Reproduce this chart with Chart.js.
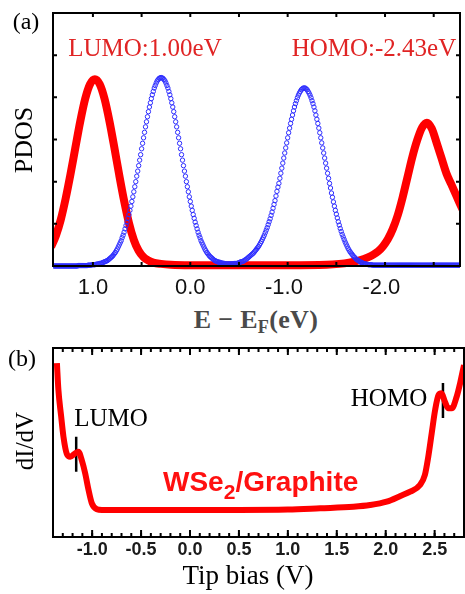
<!DOCTYPE html>
<html>
<head>
<meta charset="utf-8">
<script src="https://cdn.jsdelivr.net/npm/chart.js@4.4.1/dist/chart.umd.min.js"></script>
<style>
  body { margin: 0; background: #fff; }
  #page { position: relative; width: 465px; height: 594px; overflow: hidden; }
  canvas { position: absolute; left: 0; }
  .t { position: absolute; transform: translate(-50%, -50%); white-space: nowrap; line-height: 1;
       font-family: "Liberation Serif", serif; color: #000; }
  .rot { transform: translate(-50%, -50%) rotate(-90deg); }
  sub { line-height: 0; }
</style>
</head>
<body>
<div id="page">
  <canvas id="pdosChart" width="465" height="305" style="top:0"></canvas>
  <canvas id="stsChart" width="465" height="254" style="top:340px"></canvas>

  <div class="t" style="left:26px;top:21px;font-size:24px">(a)</div>
  <div class="t" style="left:145px;top:47px;font-size:25px;color:#e02424">LUMO:1.00eV</div>
  <div class="t" style="left:374px;top:47px;font-size:25px;color:#e02424">HOMO:-2.43eV</div>
  <div class="t rot" style="left:24px;top:140px;font-size:26px">PDOS</div>
  <div class="t" style="left:256px;top:320px;font-size:26px;font-weight:bold;color:#4a4a4a;letter-spacing:0.3px">E − E<sub style="font-size:0.7em;vertical-align:-0.3em">F</sub>(eV)</div>

  <div class="t" style="left:22px;top:358px;font-size:24px">(b)</div>
  <div class="t rot" style="left:24px;top:441px;font-size:25px">dI/dV</div>
  <div class="t" style="left:111px;top:417px;font-size:25px">LUMO</div>
  <div class="t" style="left:389px;top:397px;font-size:25px">HOMO</div>
  <div class="t" style="left:163px;top:482px;transform:translate(0,-50%);font-family:'Liberation Sans',sans-serif;font-weight:bold;font-size:28px;color:#ff1010">WSe<sub style="font-size:0.75em;vertical-align:-0.4em">2</sub>/Graphite</div>
  <div class="t" style="left:248px;top:575px;font-size:27px">Tip bias (V)</div>
</div>

<script>
// ---- panel (a): PDOS ----
// blue circles, one value every 0.01 eV starting at 1.40 eV
const pdosEnergyStart = 1.40;
const pdosEnergyStep = 0.01;
const pdosBlue = [
  0, 0, 0, 0, 0, 0, 0, 0, 0, 0,                               // 1.40
  0, 0, 0, 0, 0, 0, 0, 0, 0, 0,                               // 1.30
  0, 0, 0, 0, 0, .01, .01, .01, .01, .01,                     // 1.20
  .01, .01, .01, .01, .01, .02, .02, .02, .02, .03,           // 1.10
  .03, .03, .03, .04, .04, .05, .05, .06, .06, .07,           // 1.00
  .08, .09, .10, .11, .12, .13, .15, .17, .19, .21,           // 0.90
  .23, .26, .29, .32, .36, .40, .45, .50, .55, .60,           // 0.80
  .67, .73, .80, .88, .96, 1.04, 1.13, 1.22, 1.32, 1.42,      // 0.70
  1.53, 1.64, 1.76, 1.88, 2.00, 2.13, 2.25, 2.38, 2.51, 2.64, // 0.60
  2.78, 2.91, 3.04, 3.17, 3.30, 3.42, 3.54, 3.66, 3.77, 3.87, // 0.50
  3.97, 4.06, 4.14, 4.22, 4.28, 4.34, 4.39, 4.42, 4.45, 4.46, // 0.40
  4.47, 4.46, 4.45, 4.42, 4.39, 4.34, 4.28, 4.22, 4.14, 4.06, // 0.30
  3.97, 3.87, 3.77, 3.66, 3.54, 3.42, 3.30, 3.17, 3.04, 2.91, // 0.20
  2.78, 2.64, 2.51, 2.38, 2.25, 2.13, 2.00, 1.88, 1.76, 1.64, // 0.10
  1.53, 1.42, 1.32, 1.22, 1.13, 1.04, .96, .88, .80, .73,     // 0.00
  .67, .60, .55, .50, .45, .40, .36, .32, .29, .26,           // -0.10
  .23, .21, .19, .17, .15, .13, .12, .11, .10, .09,           // -0.20
  .09, .08, .07, .07, .06, .06, .05, .05, .05, .05,           // -0.30
  .05, .05, .05, .05, .05, .06, .06, .06, .06, .07,           // -0.40
  .08, .09, .10, .10, .11, .12, .14, .15, .17, .19,           // -0.50
  .21, .23, .25, .27, .29, .31, .34, .37, .40, .43,           // -0.60
  .46, .50, .54, .58, .63, .68, .73, .79, .85, .91,           // -0.70
  .98, 1.05, 1.12, 1.20, 1.28, 1.37, 1.46, 1.55, 1.66, 1.77,  // -0.80
  1.87, 1.96, 2.08, 2.20, 2.32, 2.44, 2.56, 2.68, 2.80, 2.92, // -0.90
  3.04, 3.16, 3.27, 3.38, 3.48, 3.58, 3.68, 3.77, 3.85, 3.92, // -1.00
  3.99, 4.05, 4.10, 4.14, 4.18, 4.20, 4.22, 4.22, 4.22, 4.20, // -1.10
  4.18, 4.14, 4.10, 4.05, 3.99, 3.92, 3.85, 3.77, 3.68, 3.58, // -1.20
  3.48, 3.38, 3.27, 3.16, 3.04, 2.92, 2.80, 2.68, 2.56, 2.44, // -1.30
  2.32, 2.20, 2.08, 1.96, 1.85, 1.73, 1.63, 1.52, 1.42, 1.32, // -1.40
  1.23, 1.14, 1.05, .97, .89, .82, .75, .69, .63, .57,        // -1.50
  .52, .47, .42, .38, .34, .31, .28, .25, .22, .20,           // -1.60
  .17, .15, .14, .12, .11, .09, .08, .07, .06, .05,           // -1.70
  .05, .04, .04, .03, .03, .03, .03, .02, .02, .02,           // -1.80
  .02, .02, .02, .02, .02, .02, .02, .02, .02, .02,           // -1.90
  .02, .02, .02, .02, .02, .02, .02, .02, .02, .02,           // -2.00
  .02, .02, .02, .02, .02, .02, .02, .02, .02, .02,           // -2.10
  .02, .02, .02, .02, .02, .02, .02, .02, .02, .02,           // -2.20
  .02, .02, .02, .02, .02, .02, .02, .02, .02, .02,           // -2.30
  .02, .02, .02, .02, .02, .02, .02, .02, .02, .02,           // -2.40
  .02, .02, .02, .02, .02, .02, .02, .02, .02, .02,           // -2.50
  .02, .02, .02, .02, .02, .02, .02, .02, .02, .02,           // -2.60
  .02, .02, .02, .02, .02, .02, .02, .02, .02                 // -2.70
];

// red LUMO / HOMO curve
const pdosRedEnergy = [1.43, 1.38, 1.33, 1.28, 1.23, 1.18, 1.13, 1.08, 1.03, 0.98, 0.93, 0.88, 0.83, 0.78,
  0.73, 0.68, 0.63, 0.58, 0.53, 0.48, 0.43, 0.38, 0.30, 0.20, 0.00, -0.50, -1.00, -1.40, -1.53, -1.63,
  -1.73, -1.83, -1.88, -1.93, -1.98, -2.03, -2.08, -2.13, -2.18, -2.23, -2.28, -2.33, -2.38, -2.43,
  -2.48, -2.53, -2.58, -2.63, -2.68, -2.73, -2.78, -2.83];
const pdosRedValue = [0.45, 0.72, 1.10, 1.60, 2.18, 2.81, 3.43, 3.96, 4.31, 4.43, 4.31, 3.96, 3.43, 2.81,
  2.16, 1.55, 1.02, 0.62, 0.36, 0.21, 0.13, 0.08, 0.05, 0.03, 0.02, 0.02, 0.02, 0.03, 0.05, 0.08,
  0.13, 0.21, 0.27, 0.35, 0.47, 0.64, 0.88, 1.20, 1.62, 2.10, 2.58, 2.98, 3.28, 3.40,
  3.26, 2.92, 2.56, 2.20, 1.94, 1.68, 1.42, 1.18];

const pdosTickValues = [1, 0, -1, -2];
const pdosTickLabels = ['1.0', '0.0', '-1.0', '-2.0'];

// ---- panel (b): dI/dV ----
const stsBias = [-1.36, -1.345, -1.317, -1.293, -1.259, -1.224, -1.173, -1.14, -1.106, -1.071, -1.037,
  -1.003, -0.952, -0.90, -0.50, 0.00, 0.50, 1.00, 1.33, 1.67, 1.84, 2.01, 2.15, 2.25, 2.35, 2.40,
  2.435, 2.47, 2.505, 2.54, 2.57, 2.605, 2.64, 2.675, 2.725, 2.76, 2.80];
const stsDidv = [0.92, 0.78, 0.64, 0.53, 0.44, 0.425, 0.443, 0.451, 0.407, 0.337, 0.249,
  0.178, 0.147, 0.143, 0.143, 0.143, 0.143, 0.145, 0.152, 0.160, 0.169, 0.187, 0.217, 0.240, 0.275, 0.328,
  0.425, 0.549, 0.672, 0.751, 0.760, 0.716, 0.681, 0.681, 0.742, 0.813, 0.910];

const lumoMarkBias = [-1.163, -1.163];
const lumoMarkLevel = [0.53, 0.345];
const homoMarkBias = [2.585, 2.585];
const homoMarkLevel = [0.815, 0.63];

const biasTickValues = [-1, -0.5, 0, 0.5, 1, 1.5, 2, 2.5];
const biasTickLabels = ['-1.0', '-0.5', '0.0', '0.5', '1.0', '1.5', '2.0', '2.5'];

// box around the plot area with inward tick marks
const frameTicks = {
  id: 'frameTicks',
  afterDatasetsDraw(chart, args, opts) {
    const { ctx, chartArea: a, scales: { x, y } } = chart;
    ctx.save();
    ctx.strokeStyle = '#000';
    const marks = (scale, step, len, horizontal) => {
      const k0 = Math.ceil(scale.min / step - 1e-6);
      const k1 = Math.floor(scale.max / step + 1e-6);
      ctx.beginPath();
      for (let k = k0; k <= k1; k++) {
        const p = scale.getPixelForValue(k * step);
        if (horizontal) {
          ctx.moveTo(p, a.top); ctx.lineTo(p, a.top + len);
          ctx.moveTo(p, a.bottom); ctx.lineTo(p, a.bottom - len);
        } else {
          ctx.moveTo(a.left, p); ctx.lineTo(a.left + len, p);
          ctx.moveTo(a.right, p); ctx.lineTo(a.right - len, p);
        }
      }
      ctx.stroke();
    };
    ctx.lineWidth = opts.tickWidth;
    if (opts.xMinor) marks(x, opts.xMinor, opts.minorLen, true);
    if (opts.xMajor) marks(x, opts.xMajor, opts.majorLen, true);
    if (opts.yStep) marks(y, opts.yStep, opts.minorLen, false);
    ctx.lineWidth = opts.frameWidth;
    ctx.strokeRect(a.left, a.top, a.right - a.left, a.bottom - a.top);
    ctx.restore();
  }
};

const hiddenY = (w, min, max) => ({
  min, max,
  grid: { display: false, drawTicks: false },
  border: { display: false },
  ticks: { display: false },
  afterFit(s) { s.width = w; }
});

new Chart(document.getElementById('pdosChart'), {
  type: 'line',
  data: {
    datasets: [
      {
        label: 'blue',
        data: pdosBlue.map((v, i) => ({ x: pdosEnergyStart - i * pdosEnergyStep, y: v })),
        showLine: false,
        pointStyle: 'circle',
        pointRadius: 2.2,
        pointBorderWidth: 1,
        pointBorderColor: 'rgb(45,45,255)',
        pointBackgroundColor: 'rgba(0,0,0,0)',
        borderColor: 'rgb(45,45,255)',
        order: 0,
        clip: { left: 0, top: 0, right: 0, bottom: 4 }
      },
      {
        label: 'red',
        data: pdosRedEnergy.map((e, i) => ({ x: e, y: pdosRedValue[i] })),
        borderColor: '#ff0000',
        borderWidth: 8,
        pointRadius: 0,
        cubicInterpolationMode: 'monotone',
        order: 1,
        clip: { left: 0, top: 0, right: 0, bottom: 6 }
      }
    ]
  },
  options: {
    responsive: false,
    animation: false,
    devicePixelRatio: 1,
    layout: { padding: { top: 13, right: 2, left: 0, bottom: 0 } },
    plugins: {
      legend: { display: false },
      tooltip: { enabled: false },
      frameTicks: { xMinor: 0.5, yStep: 1, minorLen: 4, tickWidth: 2, frameWidth: 2 }
    },
    scales: {
      x: {
        type: 'linear',
        reverse: true,
        min: -2.77,
        max: 1.41,
        grid: { display: false, drawTicks: false },
        border: { display: false },
        afterBuildTicks(s) { s.ticks = pdosTickValues.map(v => ({ value: v })); },
        ticks: {
          padding: 9,
          color: '#111',
          font: { family: 'Liberation Sans', size: 22 },
          callback(v) {
            const s = pdosTickLabels[pdosTickValues.indexOf(v)];
            return s.startsWith('-') ? s + '\u2004' : s;
          }
        },
        afterFit(s) { s.height = 39; }
      },
      y: hiddenY(53, 0, 6)
    }
  },
  plugins: [frameTicks]
});

new Chart(document.getElementById('stsChart'), {
  type: 'line',
  data: {
    datasets: [
      {
        label: 'WSe2/Graphite',
        data: stsBias.map((b, i) => ({ x: b, y: stsDidv[i] })),
        borderColor: '#ff0000',
        borderWidth: 6,
        pointRadius: 0,
        cubicInterpolationMode: 'monotone'
      },
      {
        label: 'LUMO',
        data: lumoMarkBias.map((b, i) => ({ x: b, y: lumoMarkLevel[i] })),
        borderColor: '#000',
        borderWidth: 2.5,
        pointRadius: 0
      },
      {
        label: 'HOMO',
        data: homoMarkBias.map((b, i) => ({ x: b, y: homoMarkLevel[i] })),
        borderColor: '#000',
        borderWidth: 2.5,
        pointRadius: 0
      }
    ]
  },
  options: {
    responsive: false,
    animation: false,
    devicePixelRatio: 1,
    layout: { padding: { top: 8, right: 1, left: 0, bottom: 0 } },
    plugins: {
      legend: { display: false },
      tooltip: { enabled: false },
      frameTicks: { xMinor: 0.1, xMajor: 0.5, minorLen: 4, majorLen: 7, tickWidth: 2, frameWidth: 2 }
    },
    scales: {
      x: {
        type: 'linear',
        min: -1.4,
        max: 2.8,
        grid: { display: false, drawTicks: false },
        border: { display: false },
        afterBuildTicks(s) { s.ticks = biasTickValues.map(v => ({ value: v })); },
        ticks: {
          padding: 2,
          color: '#1b1b1b',
          font: { family: 'Liberation Sans', size: 18, weight: 'bold' },
          callback(v) { return biasTickLabels[biasTickValues.indexOf(v)]; }
        },
        afterFit(s) { s.height = 57; }
      },
      y: hiddenY(53, 0, 1)
    }
  },
  plugins: [frameTicks]
});
</script>
</body>
</html>
